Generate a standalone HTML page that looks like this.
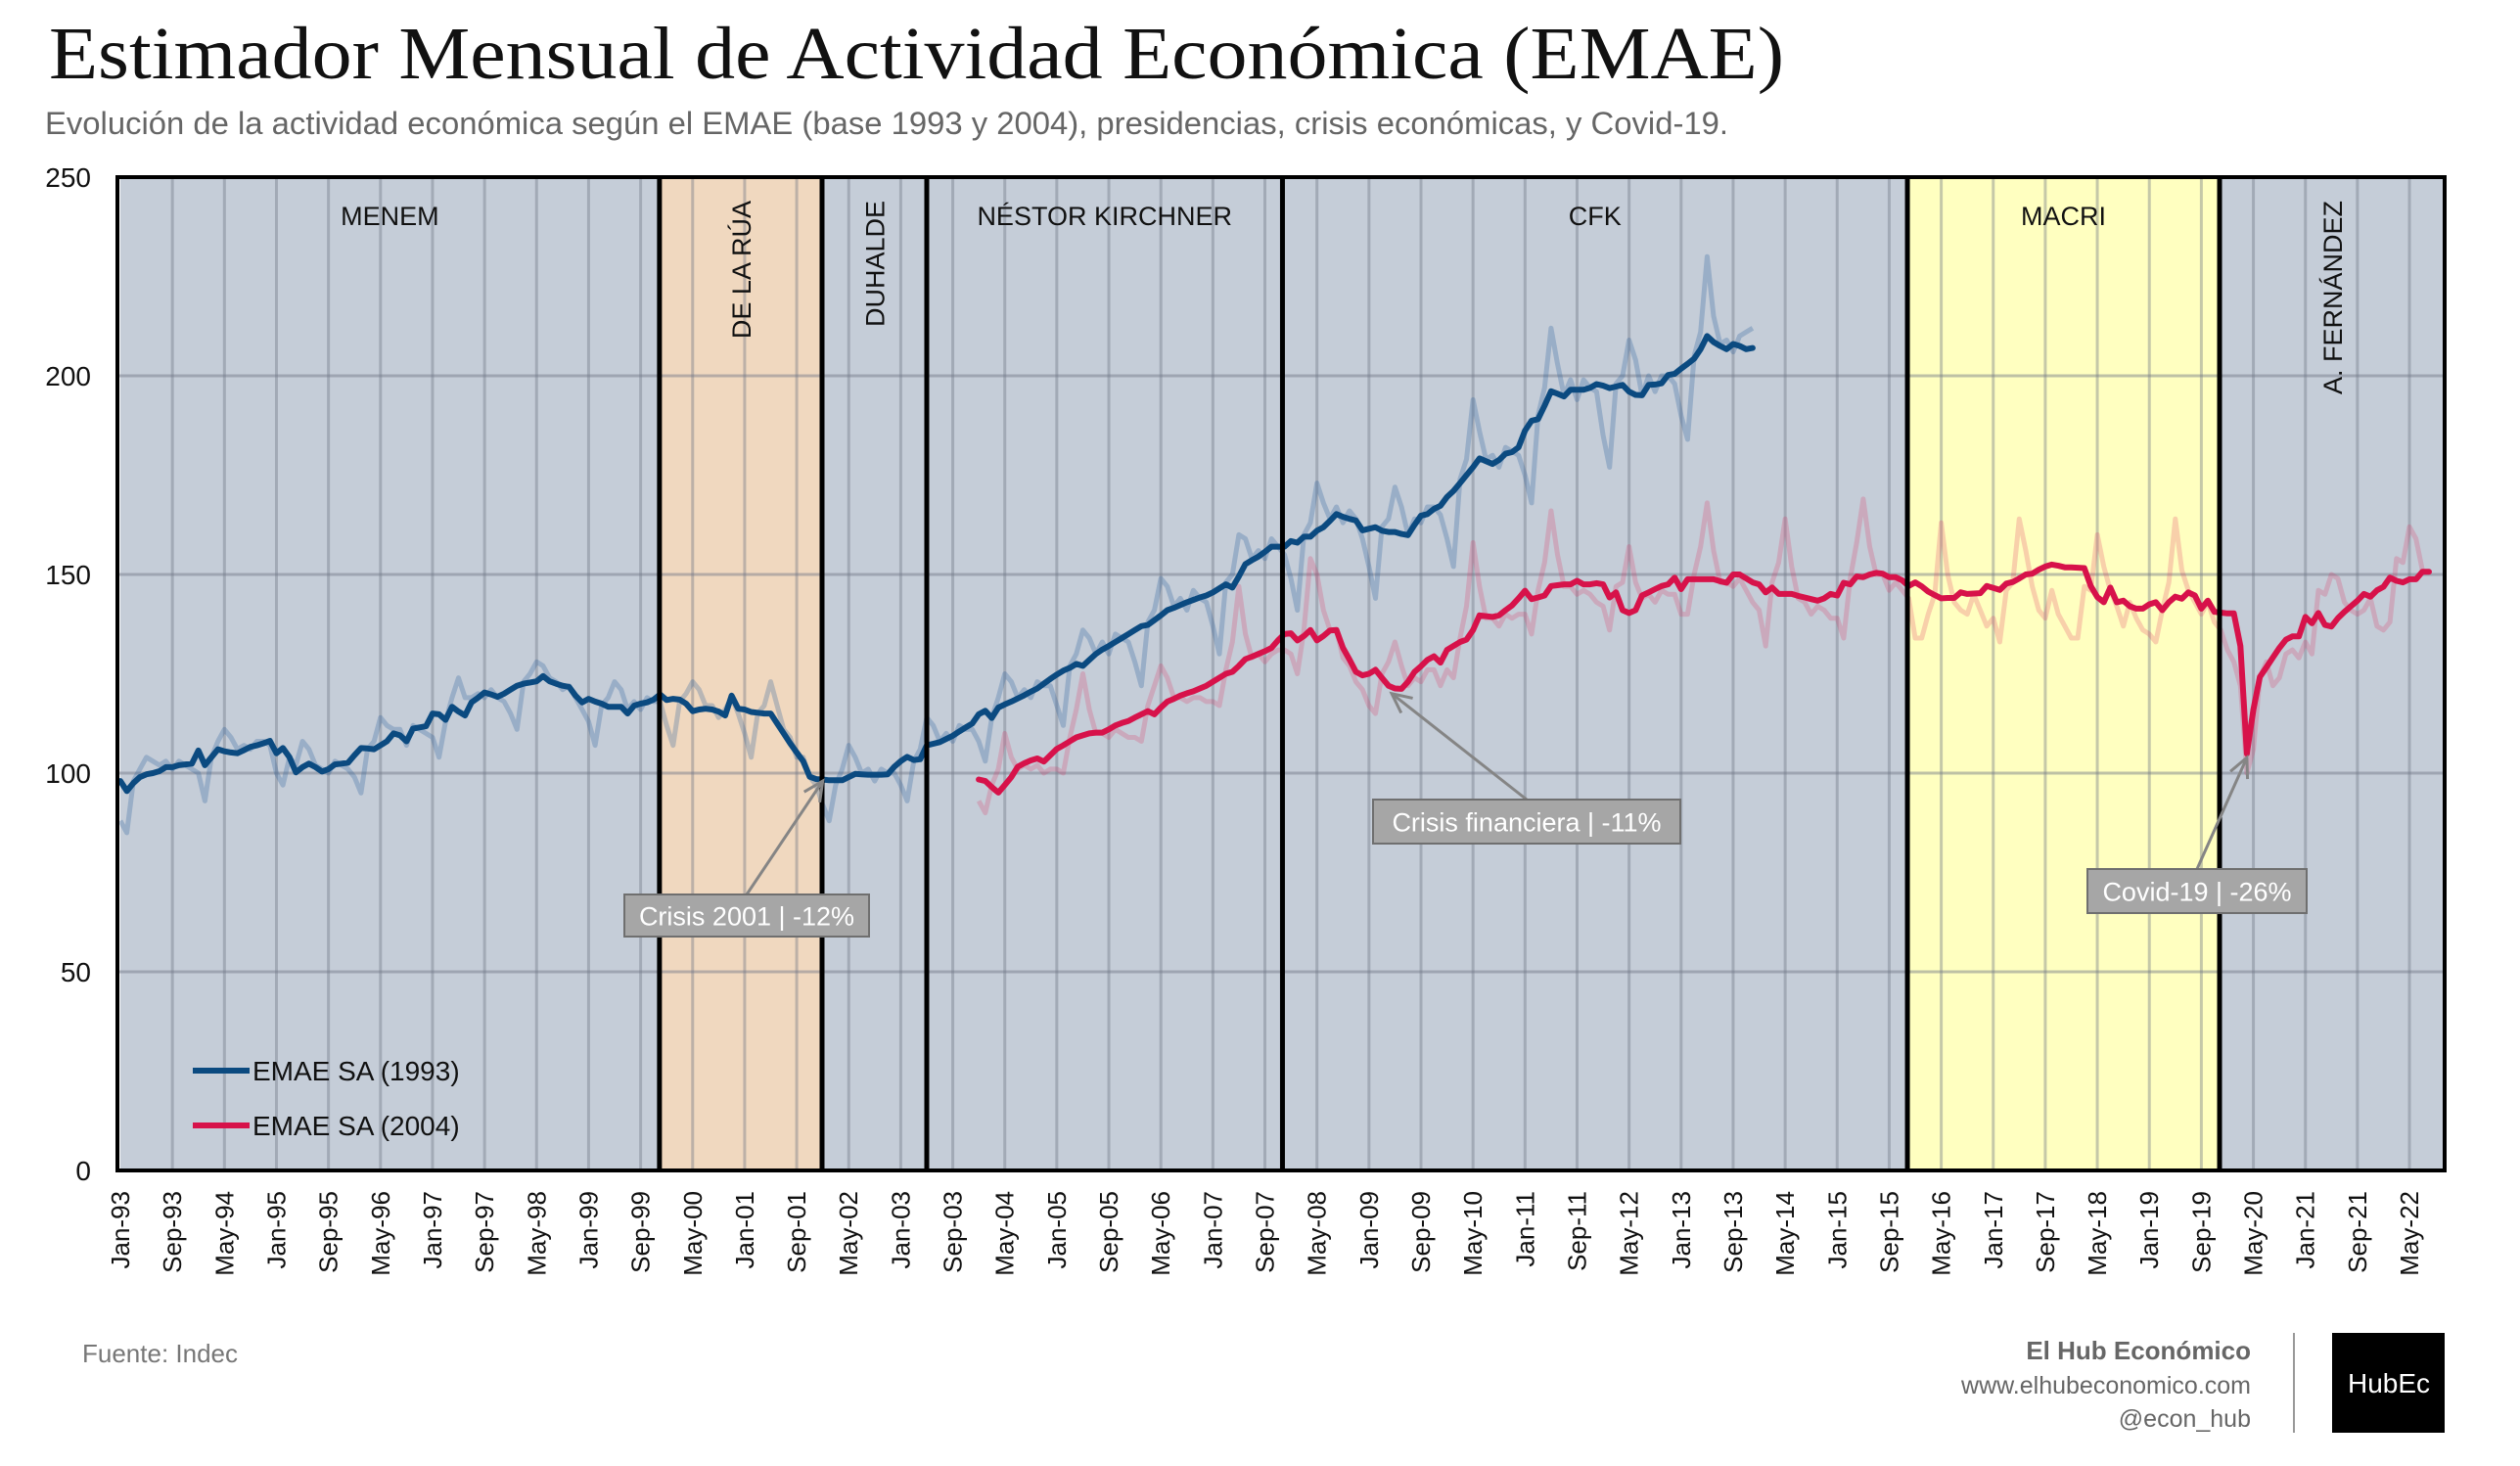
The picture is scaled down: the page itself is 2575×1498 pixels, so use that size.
<!DOCTYPE html>
<html><head><meta charset="utf-8"><title>EMAE</title>
<style>
html,body{margin:0;padding:0;background:#fff;}
svg{display:block;}
text{font-family:"Liberation Sans",sans-serif;}
</style></head>
<body>
<svg id="chart" xmlns="http://www.w3.org/2000/svg" width="2575" height="1498" viewBox="0 0 2575 1498">
<text x="50" y="80" style="font-family:'Liberation Serif',serif" font-size="76" fill="#111" textLength="1773" lengthAdjust="spacingAndGlyphs">Estimador Mensual de Actividad Económica (EMAE)</text>
<text x="46" y="137" font-size="32" fill="#666" textLength="1720" lengthAdjust="spacingAndGlyphs">Evolución de la actividad económica según el EMAE (base 1993 y 2004), presidencias, crisis económicas, y Covid-19.</text>
<g id="bg"></g><g id="grid"></g><g id="raw"></g><g id="sa"></g><g id="seps"></g><g id="labels"></g><g id="axes"></g><g id="annots"></g>
<g>
<line x1="197" y1="1094" x2="255" y2="1094" stroke="#0b4a80" stroke-width="6"/>
<text x="258" y="1104" font-size="28" fill="#111">EMAE SA (1993)</text>
<line x1="197" y1="1150" x2="255" y2="1150" stroke="#d7124a" stroke-width="6"/>
<text x="258" y="1160" font-size="28" fill="#111">EMAE SA (2004)</text>
</g>
<text x="84" y="1392" font-size="26" fill="#777">Fuente: Indec</text>
<text x="2300" y="1389" font-size="26" font-weight="bold" fill="#666" text-anchor="end">El Hub Económico</text>
<text x="2300" y="1424" font-size="25" fill="#666" text-anchor="end">www.elhubeconomico.com</text>
<text x="2300" y="1458" font-size="25" fill="#666" text-anchor="end">@econ_hub</text>
<line x1="2344" y1="1362" x2="2344" y2="1464" stroke="#999" stroke-width="2"/>
<rect x="2383" y="1362" width="115" height="102" fill="#000"/>
<text x="2441" y="1423" font-size="28" fill="#fff" text-anchor="middle">HubEc</text>
</svg>
<script>
// ---- data (month index m: 0 = Jan-93) ----
const presStarts = [0, 82.9, 107.9, 124, 178.7, 274.8, 322.8];
const presEnd = 358;
const presNames = ["MENEM","DE LA RÚA","DUHALDE","NÉSTOR KIRCHNER","CFK","MACRI","A. FERNÁNDEZ"];
const presVertical = [false,true,true,false,false,false,true];
const presColors = ["#c5cdd8","#f0d8bf","#c5cdd8","#c5cdd8","#c5cdd8","#ffffc0","#c5cdd8"];
const yTicks = [0,50,100,150,200,250];
const monthNames = ["Jan","Feb","Mar","Apr","May","Jun","Jul","Aug","Sep","Oct","Nov","Dec"];
const sa1993Start = 0;
const sa1993 = [
98,95.5,97.5,99,99.7,100,100.5,101.5,101.5,102,102.2,102.4,
105.7,102,104,106,105.5,105.2,105,105.8,106.6,107,107.5,108.1,
105,106.3,104,100.2,101.5,102.4,101.5,100.4,101,102.2,102.4,102.6,
104.5,106.3,106.2,106,107,108,110,109.5,108,111.2,111.5,111.8,
115,114.8,113.4,116.7,115.5,114.5,117.8,119,120.3,119.8,119.2,120,
121,122,122.5,122.8,123.1,124.4,123.1,122.5,122,121.7,119.5,117.8,
118.7,118,117.5,116.7,116.7,116.7,115,117,117.5,117.8,118.5,119.8,
118.4,118.7,118.5,117.5,115.6,116,116.2,116,115.5,114.5,119.5,116.2,
116,115.4,115.2,115,115,112.5,110,107.5,105.2,103,99.1,98.5,
98.4,98.2,98.2,98.2,99,99.8,99.7,99.6,99.6,99.6,99.7,101.6,
103,104.1,103.3,103.5,107,107.4,107.8,108.6,109.4,110.5,111.5,112.5,
114.8,115.7,113.9,116.5,117.3,118,118.8,119.6,120.5,121.3,122.5,123.7,
124.8,125.8,126.5,127.5,127,128.5,130,131.1,132,133,134,135,
136,137,137.3,138.5,139.7,141,141.6,142.3,143,143.6,144.2,144.7,
145.5,146.5,147.5,146.7,149.5,152.6,153.6,154.5,155.7,157,157,157,
158.4,158,159.5,159.5,161,161.9,163.5,165.2,164.5,164,163.6,161.1,
161.5,161.9,161,160.7,160.7,160.2,159.9,162.5,164.8,165.2,166.5,167.3,
169.5,171,173,175,177,179.2,178.5,177.8,178.8,180.4,180.8,182,
186.2,188.7,189.1,192.5,196.1,195.5,194.8,196.5,196.5,196.5,197,197.9,
197.5,196.9,197.3,197.7,196,195.2,195.1,197.7,197.8,198.1,200.2,200.5,
201.8,203,204.3,206.7,210,208.5,207.5,206.7,208,207.5,206.7,207];
const raw1993 = [
88,85,98,101,104,103,102,103,101,103,102,101,
100,93,104,108,111,109,106,107,106,108,108,107,
100,97,104,102,108,106,102,101,100,103,102,101,
99,95,106,108,114,112,111,111,107,112,111,110,
109,104,113,119,124,119,119,120,119,121,119,118,
115,111,123,125,128,127,124,123,121,122,119,116,
113,107,117,119,123,121,116,118,116,119,118,118,
112,107,118,120,123,121,117,117,114,116,119,115,
110,104,115,117,123,117,111,109,104,104,99,97,
92,88,97,101,107,104,100,101,98,101,100,100,
97,93,103,106,114,112,108,110,108,112,111,111,
108,103,114,119,125,123,119,121,119,123,122,122,
117,112,127,130,136,134,130,133,130,135,134,133,
128,122,138,141,149,147,142,144,141,146,144,143,
137,130,148,150,160,159,154,156,154,159,157,155,
149,141,160,163,173,168,164,167,163,166,164,159,
152,144,162,164,172,167,160,164,163,167,167,165,
159,152,174,179,194,186,179,180,177,182,181,180,
175,168,190,197,212,203,195,199,194,199,197,196,
185,177,198,200,209,204,195,200,196,200,200,198,
190,184,205,211,230,215,208,209,206,210,211,212];
const sa2004Start = 132;
const sa2004 = [
98.4,98,96.5,95.1,97,99,101.6,102.5,103.2,103.7,102.9,104.5,
106.1,107,108,109,109.5,110,110.2,110.2,111,112,112.6,113.1,
114,114.8,115.6,114.8,116.5,118,118.7,119.5,120.1,120.6,121.3,122,
123,124,125,125.5,127,128.7,129.3,130,130.7,131.5,133.4,135,
135.2,133.4,134.5,136,133.4,134.5,135.9,136,131.5,128.6,125.5,124.6,
125,126,124,122,121.3,121.2,123,125.5,126.9,128.5,129.4,127.8,
131,132,133,133.6,136,139.7,139.5,139.3,139.7,141,142.2,144,
145.9,143.8,144.2,144.7,147.1,147.3,147.5,147.5,148.4,147.5,147.5,147.8,
147.5,144.2,145.5,141,140.3,141,144.7,145.5,146.3,147.1,147.5,149.2,
146.3,148.8,148.8,148.8,148.8,148.8,148.3,147.9,150,150,149,148,
147.5,145.5,146.7,145.1,145.1,145.1,144.6,144.2,143.8,143.4,144,145.1,
144.7,147.9,147.5,149.5,149.3,150,150.4,150.2,149.3,149.3,148.5,147.1,
148,147,145.7,144.8,144,144.1,144.1,145.5,145.1,145.2,145.3,147.1,
146.6,146.1,147.7,148.1,149,150,150.2,151.2,152,152.5,152.2,151.8,
151.8,151.7,151.6,147.1,144.3,143,146.7,143,143.4,142,141.4,141.4,
142.5,143,141,143,144.4,143.9,145.5,144.7,141.4,143.4,140.6,140.4,
140.2,140.2,132,104.9,116,124.2,126.6,129.1,131.5,133.6,134.4,134.4,
139.3,137.7,140.3,137.3,136.9,139,140.6,142,143.4,145.1,144.4,146,
146.9,149.2,148.4,148,148.8,148.8,150.7,150.7];
const raw2004 = [
93,90,97,101,110,104,101,102,101,102,100,101,
101,100,109,116,125,116,110,110,109,111,110,109,
109,108,117,122,127,124,119,119,118,119,119,118,
118,117,126,133,147,135,129,130,128,130,131,131,
130,125,136,154,150,141,136,136,129,127,123,121,
117,115,125,128,133,127,122,124,123,126,126,122,
126,124,134,142,158,147,139,139,137,140,139,140,
140,135,146,153,166,155,147,147,145,146,145,143,
142,136,147,148,157,148,144,145,143,146,145,145,
140,140,150,157,168,156,148,148,147,149,146,143,
141,132,148,153,164,152,144,143,140,142,141,139,
139,134,149,158,169,157,150,150,146,148,146,144,
134,134,140,145,163,150,143,141,140,145,141,137,
139,133,146,148,164,156,147,141,139,146,140,137,
134,134,147,146,160,152,146,142,137,143,139,136,
135,133,141,148,164,151,146,143,140,143,138,136,
131,128,122,100,106,124,128,122,124,130,131,129,
133,130,146,145,150,149,143,141,140,141,144,137,
136,138,154,153,162,159,151];
const annotations = [
 {label:"Crisis 2001 | -12%", m:108, v:99, bx:638, by:914, bw:250, bh:43},
 {label:"Crisis financiera | -11%", m:195.5, v:121, bx:1403, by:817, bw:314, bh:45},
 {label:"Covid-19 | -26%", m:327, v:104.9, bx:2133, by:888, bw:224, bh:45}
];
// ---- scales ----
const X0=123, PX=6.645, PL=120, PR=2498, PT=181, PB=1196, VMAX=250;
const xs = m => X0 + PX*m;
const ys = v => PB - v*(PB-PT)/VMAX;
const NS="http://www.w3.org/2000/svg";
function mk(tag, parent, attrs){const e=document.createElementNS(NS,tag);for(const k in attrs)e.setAttribute(k,attrs[k]);document.getElementById(parent).appendChild(e);return e;}
presStarts.forEach((s,i)=>{
  const e = i<presStarts.length-1 ? presStarts[i+1] : presEnd;
  const x1 = Math.max(PL, xs(s)), x2 = Math.min(PR, xs(e));
  const r = mk("rect","bg",{x:x1,y:PT,width:x2-x1,height:PB-PT,fill:presColors[i]});
  
  
});
yTicks.forEach(v=>{
  if(v>0&&v<VMAX){const l=mk("line","grid",{x1:PL,x2:PR,y1:ys(v),y2:ys(v),stroke:"rgba(110,118,132,0.45)","stroke-width":3});
  
  }
  const t=mk("text","axes",{x:93,y:ys(v)+10,"font-size":28,fill:"#111","text-anchor":"end"});
  t.textContent=v;
  
  
});
for(let m=0;m<=352;m+=8){
  if(m>0){const l=mk("line","grid",{x1:xs(m),x2:xs(m),y1:PT,y2:PB,stroke:"rgba(110,118,132,0.4)","stroke-width":3});
  
  }
  const yr=93+Math.floor(m/12); const lab=monthNames[m%12]+"-"+String(yr%100).padStart(2,"0");
  const x=xs(m)+9, y=1217;
  const t=mk("text","axes",{x:x,y:y,"font-size":26,fill:"#111","text-anchor":"end",transform:`rotate(-90 ${x} ${y})`});
  t.textContent=lab;
  
  
}
function path(arr,start){return arr.map((v,i)=>(i?"L":"M")+xs(start+i).toFixed(1)+" "+ys(v).toFixed(1)).join(" ");}
let p;
p=mk("path","raw",{d:path(raw1993,sa1993Start),fill:"none",stroke:"rgba(40,95,155,0.28)","stroke-width":5,"stroke-linejoin":"round"});


p=mk("path","raw",{d:path(raw2004,sa2004Start),fill:"none",stroke:"rgba(225,40,90,0.22)","stroke-width":5,"stroke-linejoin":"round"});


p=mk("path","sa",{d:path(sa1993,sa1993Start),fill:"none",stroke:"#0b4a80","stroke-width":6,"stroke-linejoin":"round","stroke-linecap":"round"});


p=mk("path","sa",{d:path(sa2004,sa2004Start),fill:"none",stroke:"#d7124a","stroke-width":6,"stroke-linejoin":"round","stroke-linecap":"round"});


presStarts.forEach((s,i)=>{
  if(i>0){const l=mk("line","seps",{x1:xs(s),x2:xs(s),y1:PT,y2:PB,stroke:"#000","stroke-width":5});
  
  }
  const e = i<presStarts.length-1 ? presStarts[i+1] : presEnd;
  const cx=(Math.max(PL,xs(s))+Math.min(PR,xs(e)))/2;
  let t;
  if(presVertical[i]){const x=cx+10,y=205;t=mk("text","labels",{x:x,y:y,"font-size":27,fill:"#111","text-anchor":"end",transform:`rotate(-90 ${x} ${y})`});}
  else {t=mk("text","labels",{x:cx,y:230,"font-size":27,fill:"#111","text-anchor":"middle"});}
  t.textContent=presNames[i];
  
  
});
const frame=mk("rect","axes",{x:PL,y:PT,width:PR-PL,height:PB-PT,fill:"none",stroke:"#000","stroke-width":4});


annotations.forEach(a=>{
  const tx=xs(a.m), ty=ys(a.v)+4, sx=a.bx+a.bw/2, sy=a.by;
  const ln=mk("line","annots",{x1:sx,y1:sy,x2:tx,y2:ty,stroke:"#858585","stroke-width":3});
  
  
  const ang=Math.atan2(ty-sy,tx-sx), L=22;
  const hd=mk("path","annots",{d:`M${tx-L*Math.cos(ang-0.45)} ${ty-L*Math.sin(ang-0.45)} L${tx} ${ty} L${tx-L*Math.cos(ang+0.45)} ${ty-L*Math.sin(ang+0.45)}`,fill:"none",stroke:"#858585","stroke-width":3});
  
  
  const r=mk("rect","annots",{x:a.bx,y:a.by,width:a.bw,height:a.bh,fill:"#a6a6a6",stroke:"#6f6f6f","stroke-width":2});
  
  
  const t=mk("text","annots",{x:a.bx+a.bw/2,y:a.by+a.bh/2+10,"font-size":27,fill:"#fff","text-anchor":"middle"});
  t.textContent=a.label;
  
  
});
</script>
</body></html>
